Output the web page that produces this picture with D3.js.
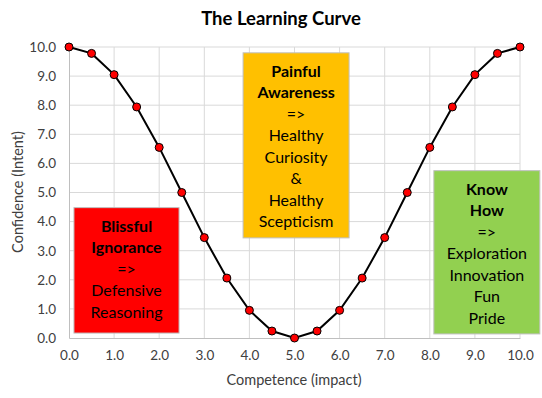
<!DOCTYPE html>
<html>
<head>
<meta charset="utf-8">
<script src="https://cdn.jsdelivr.net/npm/d3@7"></script>
<style>
body { margin: 0; background: #fff; }
text { font-family: Lato, "Open Sans", sans-serif; }
</style>
</head>
<body>
<script>
// data
const competence = [0, 0.5, 1, 1.5, 2, 2.5, 3, 3.5, 4, 4.5, 5, 5.5, 6, 6.5, 7, 7.5, 8, 8.5, 9, 9.5, 10];
const confidence = [10.0, 9.78, 9.05, 7.94, 6.55, 5.0, 3.45, 2.06, 0.95, 0.24, 0.0, 0.24, 0.95, 2.06, 3.45, 5.0, 6.55, 7.94, 9.05, 9.78, 10.0];
const xTicks = [0, 1, 2, 3, 4, 5, 6, 7, 8, 9, 10];
const yTicks = [0, 1, 2, 3, 4, 5, 6, 7, 8, 9, 10];

// stage boxes: x/y ranges in data units, text lines
const stageNames = ["ignorance", "awareness", "knowhow"];
const stageFill = ["#ff0000", "#ffc000", "#92d050"];
const stageX = [[0.11, 2.44], [3.86, 6.21], [8.09, 10.44]];
const stageY = [[4.48, 0.17], [9.8, 3.44], [5.75, 0.14]];
const stageBold = [["Blissful", "Ignorance"], ["Painful", "Awareness"], ["Know", "How"]];
const stageText = [["=>", "Defensive", "Reasoning"],
                   ["=>", "Healthy", "Curiosity", "&", "Healthy", "Scepticism"],
                   ["=>", "Exploration", "Innovation", "Fun", "Pride"]];

const W = 542, H = 398;
const x = d3.scaleLinear().domain([0, 10]).range([69, 520]);
const y = d3.scaleLinear().domain([0, 10]).range([338, 47]);

const svg = d3.select("body").append("svg")
    .attr("width", W).attr("height", H);

// grid
svg.append("g").selectAll("line").data(yTicks.slice(1)).join("line")
    .attr("x1", x(0)).attr("x2", x(10))
    .attr("y1", d => y(d)).attr("y2", d => y(d))
    .attr("stroke", "#d9d9d9").attr("stroke-width", 1);
svg.append("g").selectAll("line").data(xTicks.slice(1)).join("line")
    .attr("x1", d => x(d)).attr("x2", d => x(d))
    .attr("y1", y(0)).attr("y2", y(10))
    .attr("stroke", "#d9d9d9").attr("stroke-width", 1);

// axes
const xAxis = d3.axisBottom(x).tickValues(xTicks).tickSize(0).tickPadding(12)
    .tickFormat(d3.format(".1f"));
const yAxis = d3.axisLeft(y).tickValues(yTicks).tickSize(0).tickPadding(13)
    .tickFormat(d3.format(".1f"));

const gx = svg.append("g").attr("transform", "translate(0," + y(0) + ")").call(xAxis);
const gy = svg.append("g").attr("transform", "translate(" + x(0) + ",0)").call(yAxis);
gx.select(".domain").attr("stroke", "#bfbfbf");
gy.select(".domain").attr("stroke", "#bfbfbf");
svg.selectAll(".tick text").attr("font-size", 13.5).attr("fill", "#404040")
    .style("font-family", "Lato, sans-serif");

// stage boxes
stageNames.forEach(function(name, i) {
    const g = svg.append("g").attr("class", name);
    const x0 = x(stageX[i][0]), x1 = x(stageX[i][1]);
    const y0 = y(stageY[i][0]), y1 = y(stageY[i][1]);
    g.append("rect")
        .attr("x", x0).attr("y", y0)
        .attr("width", x1 - x0).attr("height", y1 - y0)
        .attr("fill", stageFill[i]).attr("stroke", "#bfbfbf").attr("stroke-width", 1);
    const lines = stageBold[i].map(t => ({t: t, b: true})).concat(stageText[i].map(t => ({t: t, b: false})));
    const cx = (x0 + x1) / 2;
    const top = y0 + 24;
    g.selectAll("text").data(lines).join("text")
        .attr("x", cx).attr("y", (d, k) => top + k * 21.5)
        .attr("text-anchor", "middle")
        .attr("font-size", 16)
        .attr("font-weight", d => d.b ? "bold" : "normal")
        .attr("fill", "#000")
        .text(d => d.t);
});

// curve
svg.append("path")
    .datum(competence.map((c, i) => [c, confidence[i]]))
    .attr("fill", "none").attr("stroke", "#000").attr("stroke-width", 2)
    .attr("d", d3.line().x(d => x(d[0])).y(d => y(d[1])));

svg.append("g").selectAll("circle").data(competence).join("circle")
    .attr("cx", d => x(d)).attr("cy", (d, i) => y(confidence[i]))
    .attr("r", 4).attr("fill", "#ff0000").attr("stroke", "#000").attr("stroke-width", 1);

// titles
svg.append("text").attr("x", 281).attr("y", 25).attr("text-anchor", "middle")
    .attr("font-size", 18.5).attr("font-weight", "bold").text("The Learning Curve");
svg.append("text").attr("x", 294).attr("y", 385).attr("text-anchor", "middle")
    .attr("font-size", 14.5).attr("fill", "#404040").text("Competence (impact)");
svg.append("text").attr("transform", "translate(23,192) rotate(-90)").attr("text-anchor", "middle")
    .attr("font-size", 14.5).attr("fill", "#404040").text("Confidence (Intent)");
</script>
</body>
</html>
